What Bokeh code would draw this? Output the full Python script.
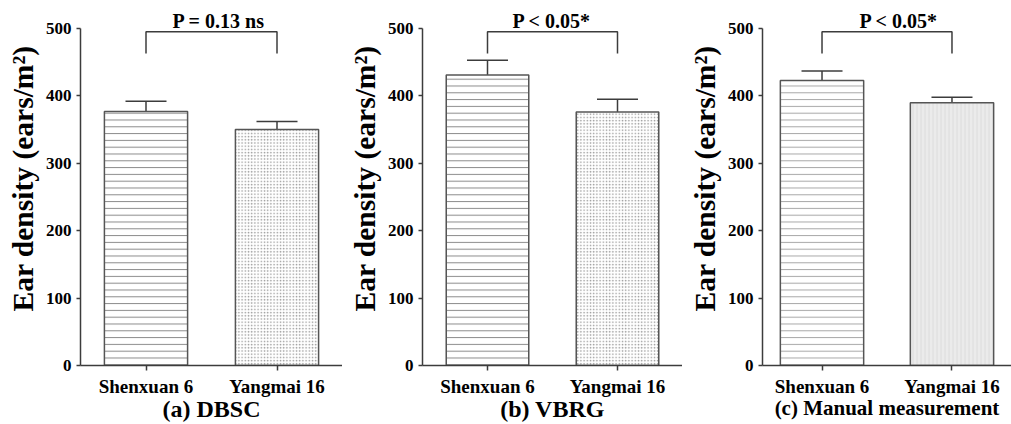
from bokeh.plotting import figure
from bokeh.models import (FactorRange, Range1d, FixedTicker, Whisker, TeeHead,
                          ColumnDataSource, Title)
from bokeh.layouts import row
from bokeh.embed import file_html
from bokeh.resources import INLINE

# ---------------- data ----------------
categories = ["Shenxuan 6", "Yangmai 16"]
dbsc_mean = [377, 350]
dbsc_err = [15, 12]
vbrg_mean = [431, 376]
vbrg_err = [22, 19]
manual_mean = [423, 390]
manual_err = [14, 8]
p_labels = ["P = 0.13 ns", "P < 0.05*", "P < 0.05*"]
captions = ["(a) DBSC", "(b) VBRG", "(c) Manual measurement"]
y_ticks = [0, 100, 200, 300, 400, 500]
y_title = "Ear density (ears/m\u00b2)"

FONT = "Liberation Serif"
AX = "#3c3c3c"


def panel(means, errs, p_text, caption, width, left, bar_style, p_offset,
          cap_size, bar_w=0.635, factor_pad=0.0):
    xr = FactorRange(*categories, factor_padding=factor_pad)
    p = figure(x_range=xr, y_range=Range1d(0, 500), width=width, height=424,
               output_backend="svg", toolbar_location=None,
               min_border_left=left, min_border_right=0,
               min_border_top=28, min_border_bottom=58)
    p.outline_line_color = None
    p.xgrid.visible = False
    p.ygrid.visible = False
    p.background_fill_color = "white"
    p.border_fill_color = "white"

    src = ColumnDataSource(dict(
        cat=categories, top=means,
        upper=[m + e for m, e in zip(means, errs)],
        fill=bar_style["fill"], hp=bar_style["hp"], hc=bar_style["hc"],
        hs=bar_style["hs"],
    ))
    p.vbar(x="cat", top="top", width=bar_w, source=src,
           fill_color="fill", hatch_pattern="hp", hatch_color="hc",
           hatch_scale="hs", hatch_weight=1,
           line_color="#555555", line_width=1.5)

    w = Whisker(source=src, base="cat", lower="top", upper="upper",
                line_color=AX, line_width=1.5,
                upper_head=TeeHead(size=41, line_color=AX, line_width=1.5),
                lower_head=None)
    p.add_layout(w)

    # significance bracket
    p.line(x=[categories[0], categories[0], categories[1], categories[1]],
           y=[463, 495, 495, 463], line_color=AX, line_width=1.5)

    # P-value text (title above the frame)
    p.add_layout(Title(text=p_text, align="left", offset=p_offset,
                       standoff=-6, text_font=FONT, text_font_style="bold",
                       text_font_size="20px", text_color="black"), "above")

    # y title (left, shifted up from the frame bottom)
    p.add_layout(Title(text=y_title, align="left", offset=54, standoff=8,
                       text_font=FONT, text_font_style="bold",
                       text_font_size="29.5px", text_color="black"), "left")

    # axes
    p.yaxis.ticker = FixedTicker(ticks=y_ticks)
    for ax in (p.xaxis, p.yaxis):
        ax.axis_line_color = AX
        ax.axis_line_width = 1.5
        ax.major_tick_line_color = AX
        ax.major_tick_line_width = 1.5
        ax.major_tick_in = 0
        ax.minor_tick_line_color = None
        ax.major_label_text_font = FONT
        ax.major_label_text_font_style = "bold"
        ax.major_label_text_color = "black"
    p.yaxis.major_tick_out = 4
    p.yaxis.major_label_text_font_size = "17px"
    p.yaxis.major_label_standoff = 5
    p.xaxis.major_tick_out = 5
    p.xaxis.major_label_text_font_size = "19px"
    p.xaxis.major_label_standoff = 5
    p.xaxis.axis_label = caption
    p.xaxis.axis_label_text_font = FONT
    p.xaxis.axis_label_text_font_style = "bold"
    p.xaxis.axis_label_text_font_size = cap_size
    p.xaxis.axis_label_text_color = "black"
    p.xaxis.axis_label_standoff = -4
    return p


style_ab = dict(fill=["white", "white"], hp=["horizontal_line", "dot"],
                hc=["#8c8c8c", "#9a9a9a"], hs=[6.8, 3.2])
style_c = dict(fill=["white", "#ebebeb"], hp=["horizontal_line", "vertical_line"],
               hc=["#a8a8a8", "#dcdcdc"], hs=[6.8, 4.0])

p1 = panel(dbsc_mean, dbsc_err, p_labels[0], captions[0], 342, 79, style_ab, 92, "24px")
p2 = panel(vbrg_mean, vbrg_err, p_labels[1], captions[1], 340, 78, style_ab, 90, "24px")
p3 = panel(manual_mean, manual_err, p_labels[2], captions[2], 329, 80, style_c, 97, "21px",
           bar_w=0.70, factor_pad=0.092)

layout = row(p1, p2, p3, spacing=0)
open("out.html", "w").write(file_html(layout, INLINE))
